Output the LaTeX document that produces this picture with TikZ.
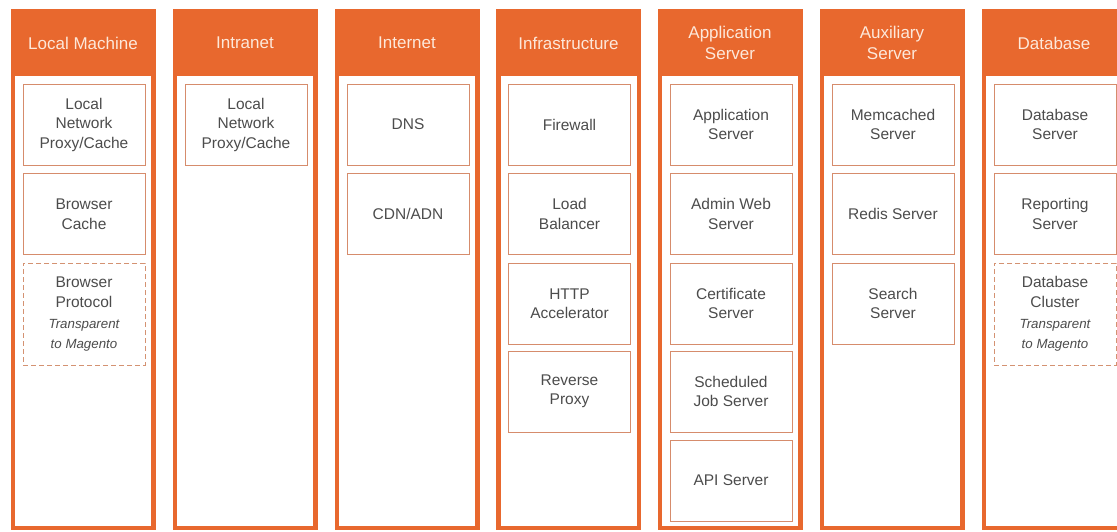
\documentclass[tikz,border=0pt]{standalone}
\usepackage{fontspec}
\setmainfont{Liberation Sans}
\definecolor{orangeA}{RGB}{232,104,46}
\definecolor{hdrtext}{RGB}{253,232,218}
\definecolor{boxline}{RGB}{214,140,108}
\definecolor{dashline}{RGB}{212,146,114}
\definecolor{textgray}{RGB}{76,76,76}
\newcommand\mkcol[3]{%
  \fill[orangeA] (#1,9) rectangle ++(145,521);
  \fill[white] (#1+4.5,76) rectangle (#1+140.5,525.5);
  \node[hdr] (#2) at (#1+72.5,43) {#3};
}
\begin{document}
\begin{tikzpicture}[x=1pt,y=-1pt,
  hdr/.style={text=hdrtext, font=\fontsize{17}{21}\selectfont, align=center, inner sep=0pt},
  comp/.style={draw=boxline, line width=1pt, fill=white, minimum width=122pt,
    minimum height=81pt, inner sep=0pt, align=center, text=textgray,
    font=\fontsize{15.5}{19.5}\selectfont},
  tcomp/.style={comp, draw=dashline, dash pattern=on 5pt off 3pt, minimum height=102pt}
]
\useasboundingbox (0,0) rectangle (1117,531);
\clip (0,0) rectangle (1117,531);
\fill[white] (0,0) rectangle (1117,531);

\mkcol{10.5}{hlm}{Local Machine}
\mkcol{172.5}{hin}{Intranet}
\mkcol{334.5}{hnet}{Internet}
\mkcol{496}{hinf}{Infrastructure}
\mkcol{657.5}{happ}{Application\\Server}
\mkcol{819.5}{haux}{Auxiliary\\Server}
\mkcol{981.5}{hdb}{Database}

% Local Machine
\node[comp] (lm1) at (84,124.5) {Local\\Network\\Proxy/Cache};
\node[comp] (lm2) at (84,214) {Browser\\Cache};
\node[tcomp] (lm3) at (84,314) {Browser\\Protocol\\[2pt]{\fontsize{13.3}{20}\selectfont\itshape Transparent}\\{\fontsize{13.3}{20}\selectfont\itshape to Magento}};

% Intranet
\node[comp] (in1) at (246,124.5) {Local\\Network\\Proxy/Cache};

% Internet
\node[comp] (net1) at (408,124.5) {DNS};
\node[comp] (net2) at (408,214) {CDN/ADN};

% Infrastructure
\node[comp] (inf1) at (569.5,124.5) {Firewall};
\node[comp] (inf2) at (569.5,214) {Load\\Balancer};
\node[comp] (inf3) at (569.5,303.5) {HTTP\\Accelerator};
\node[comp] (inf4) at (569.5,391.5) {Reverse\\Proxy};

% Application Server
\node[comp] (app1) at (731,124.5) {Application\\Server};
\node[comp] (app2) at (731,214) {Admin Web\\Server};
\node[comp] (app3) at (731,303.5) {Certificate\\Server};
\node[comp] (app4) at (731,391.5) {Scheduled\\Job Server};
\node[comp] (app5) at (731,480.5) {API Server};

% Auxiliary Server
\node[comp] (aux1) at (893,124.5) {Memcached\\Server};
\node[comp] (aux2) at (893,214) {Redis Server};
\node[comp] (aux3) at (893,303.5) {Search\\Server};

% Database
\node[comp] (db1) at (1055,124.5) {Database\\Server};
\node[comp] (db2) at (1055,214) {Reporting\\Server};
\node[tcomp] (db3) at (1055,314) {Database\\Cluster\\[2pt]{\fontsize{13.3}{20}\selectfont\itshape Transparent}\\{\fontsize{13.3}{20}\selectfont\itshape to Magento}};
\end{tikzpicture}
\end{document}
